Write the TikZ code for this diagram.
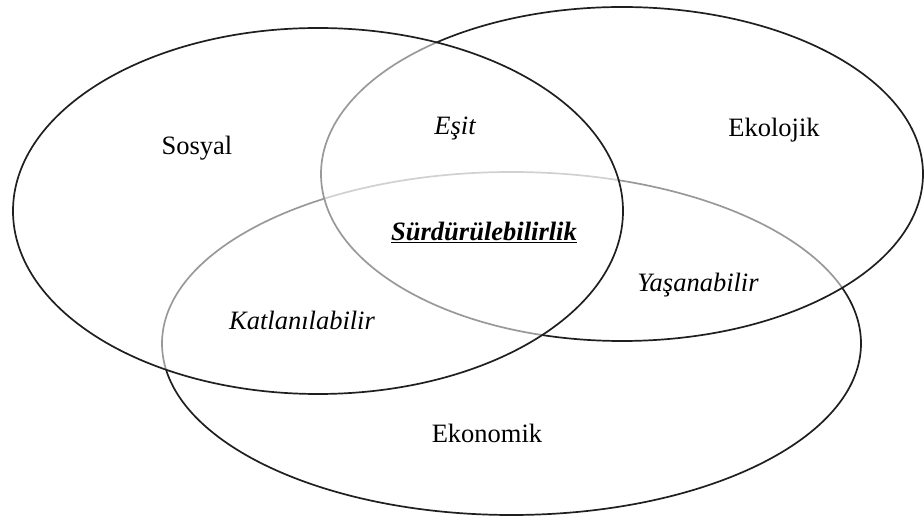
\documentclass[tikz,border=0pt]{standalone}
\usepackage{fontspec}
\setmainfont{Liberation Serif}
\usetikzlibrary{shapes.geometric}
\tikzset{
  set/.style={ellipse, draw=black!88, line width=1.7pt, fill=white, fill opacity=0.55, inner sep=0pt, outer sep=0pt},
  lbl/.style={font=\fontsize{26.5}{30}\selectfont, text=black, inner sep=0pt},
  ilbl/.style={lbl, font=\fontsize{26.5}{30}\selectfont\itshape}
}
\begin{document}
\begin{tikzpicture}[x=1pt,y=-1pt]
\useasboundingbox (0,0) rectangle (924,518);
\node[set, minimum width=699pt, minimum height=343pt] (eko) at (511.5,343.5) {};
\node[set, minimum width=602pt, minimum height=334pt] (ekl) at (622,174) {};
\node[set, minimum width=610pt, minimum height=366pt] (sos) at (318,211) {};
\node[lbl] (tsos) at (197,148) {Sosyal};
\node[lbl] (tekl) at (774,130) {Ekolojik};
\node[lbl] (teko) at (487,433) {Ekonomik};
\node[ilbl] (tesit) at (455,128) {Eşit};
\node[ilbl] (tyas) at (698,285) {Yaşanabilir};
\node[ilbl] (tkat) at (302,320) {Katlanılabilir};
\node[lbl, font=\fontsize{26.5}{30}\selectfont\bfseries\itshape] (tsur) at (484,232) {\underline{Sürdürülebilirlik}};
\end{tikzpicture}
\end{document}
